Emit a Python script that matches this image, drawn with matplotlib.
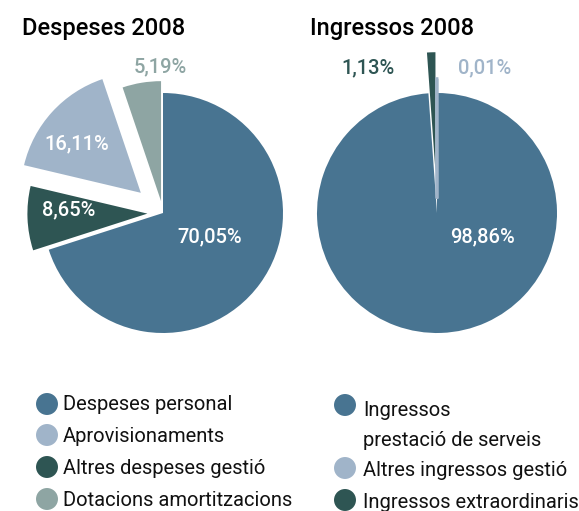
import matplotlib
matplotlib.use("Agg")
import matplotlib.pyplot as plt
import numpy as np

plt.rcParams['font.family'] = ['Roboto', 'Liberation Sans', 'DejaVu Sans']

# Data (legend order)
desp_labels = ['Despeses personal', 'Aprovisionaments', 'Altres despeses gestió',
               'Dotacions amortitzacions']
desp_values = [70.05, 16.11, 8.65, 5.19]
ing_labels = ['Ingressos\nprestació de serveis', 'Altres ingressos gestió',
              'Ingressos extraordinaris']
ing_values = [98.86, 0.01, 1.13]

# colours
BLUE = '#487491'
LIGHT = '#a0b4c9'
DARK = '#2e5553'
GREY = '#8ea5a3'
desp_colors = [BLUE, LIGHT, DARK, GREY]
ing_colors = [BLUE, LIGHT, DARK]

# drawing order of the wedges (clockwise from 12 o'clock)
desp_order = [0, 2, 1, 3]
ing_order = [0, 2, 1]
desp_explode = [0, 0.25, 0.13, 0.1]   # in legend order
ing_explode = [0, 0.12, 0.34]
# label placement (angle deg, distance) and colour, legend order
desp_lab_pos = [(-27, 0.44), (141, 0.92), (178, 0.79), (91, 1.22)]
desp_lab_col = ['white', 'white', 'white', GREY]
ing_lab_pos = [(-28, 0.43), (71.7, 1.27), (115.6, 1.34)]
ing_lab_col = ['white', LIGHT, DARK]

W, H = 579, 511
fig = plt.figure(figsize=(W / 100, H / 100), dpi=100)


def px_axes(cx, cy, r, lim=1.45):
    # square axes centred on pixel (cx, cy), radius r px = 1 data unit
    half = r * lim
    ax = fig.add_axes([(cx - half) / W, (H - cy - half) / H, 2 * half / W, 2 * half / H])
    ax.patch.set_alpha(0)
    return ax


def draw_pie(ax, values, colors, order, explode, lab_pos, lab_col):
    vals = [values[i] for i in order]
    cols = [colors[i] for i in order]
    exps = [explode[i] for i in order]
    wedges, _ = ax.pie(vals, colors=cols, explode=exps, startangle=90,
                       counterclock=False, radius=1, frame=True,
                       wedgeprops=dict(linewidth=0))
    # tiny slices only show as a line
    for w, i in zip(wedges, order):
        if values[i] < 0.5:
            w.set_edgecolor(colors[i])
            w.set_linewidth(2)
    ax.set_xlim(-1.45, 1.45)
    ax.set_ylim(-1.45, 1.45)
    ax.set_aspect('equal')
    ax.axis('off')
    for i, v in enumerate(values):
        ang, d = lab_pos[i]
        txt = f'{v:.2f}'.replace('.', ',') + '%'
        ax.text(d * np.cos(np.radians(ang)), d * np.sin(np.radians(ang)), txt,
                ha='center', va='center', color=lab_col[i], fontsize=14.5,
                fontweight='medium')


ax1 = px_axes(163, 213, 120)
draw_pie(ax1, desp_values, desp_colors, desp_order, desp_explode,
         desp_lab_pos, desp_lab_col)
ax2 = px_axes(437, 213, 120)
draw_pie(ax2, ing_values, ing_colors, ing_order, ing_explode,
         ing_lab_pos, ing_lab_col)

# titles
fig.text(22 / W, 1 - 28 / H, 'Despeses 2008', fontsize=17, fontweight='medium',
         ha='left', va='center')
fig.text(310 / W, 1 - 28 / H, 'Ingressos 2008', fontsize=17, fontweight='medium',
         ha='left', va='center')

# legends drawn by hand in a pixel-space axes
lax = fig.add_axes([0, 0, 1, 1])
lax.set_xlim(0, W)
lax.set_ylim(H, 0)
lax.axis('off')
lax.patch.set_alpha(0)

LEG_FS = 14.5
rows_left = [404, 435, 467, 499]
for lab, col, y in zip(desp_labels, desp_colors, rows_left):
    lax.scatter([47], [y], s=250, color=col, edgecolors='none')
    lax.text(63, y + 1, lab, fontsize=LEG_FS, va='center', ha='left', color='#111111')

rows_right = [405, 468, 500]
for lab, col, y in zip(ing_labels, ing_colors, rows_right):
    lax.scatter([345], [y], s=250, color=col, edgecolors='none')
    if '\n' in lab:
        first, second = lab.split('\n')
        lax.text(363, y + 6, first, fontsize=LEG_FS, va='center', ha='left',
                 color='#111111')
        lax.text(363, y + 36, second, fontsize=LEG_FS, va='center', ha='left',
                 color='#111111')
    else:
        lax.text(363, y + 2, lab, fontsize=LEG_FS, va='center', ha='left',
                 color='#111111')

fig.savefig('out.png', dpi=100)
